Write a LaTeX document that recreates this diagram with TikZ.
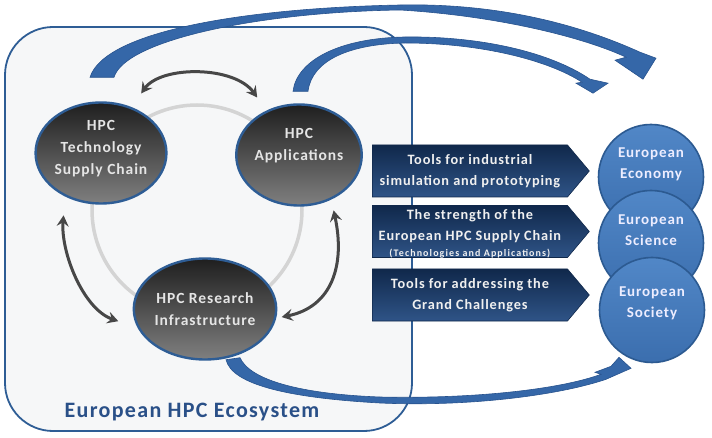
\documentclass[tikz,border=0pt]{standalone}
\usepackage{fontspec}
\setmainfont{Carlito}
\newfontfamily\hpcfont[LetterSpace=6]{Carlito}
\newfontfamily\hpcnotefont[LetterSpace=11]{Carlito}
\newcommand{\smallnotefont}{\hpcnotefont\fontsize{10}{12}\selectfont}
\usetikzlibrary{arrows.meta,positioning,shapes.geometric,shapes.symbols,calc}
\definecolor{ecoblue}{HTML}{2E5D95}
\definecolor{ecofill}{HTML}{F6F7F8}
\definecolor{navytop}{HTML}{10284B}
\definecolor{navybot}{HTML}{2F5487}
\definecolor{orbtop}{HTML}{5187C7}
\definecolor{orbbot}{HTML}{3B6EAE}
\definecolor{orbline}{HTML}{2C5A91}
\definecolor{flowblue}{HTML}{3567A8}
\definecolor{flowline}{HTML}{28538E}
\definecolor{titleblue}{HTML}{2A5088}
\tikzset{
ecobox/.style={rectangle,rounded corners=48pt,draw=ecoblue,fill=ecofill,line width=1.8pt,minimum width=407pt,minimum height=404pt},
ringc/.style={circle,draw=black!17,line width=3.5pt,minimum size=210pt,inner sep=0pt},
hpcnode/.style={ellipse,draw=ecoblue,line width=2.4pt,top color=black!88,bottom color=black!50,text=black!10,align=center,inner sep=0pt,minimum width=124pt,minimum height=101pt,font=\hpcfont\bfseries\fontsize{15.5}{22}\selectfont},
bannerbox/.style={signal,signal to=east,signal pointer angle=100,draw=navytop,line width=.6pt,top color=navytop,bottom color=navybot,text=white!94!black,align=center,inner sep=0pt,minimum width=217pt,minimum height=52pt,font=\hpcfont\bfseries\fontsize{14.3}{21}\selectfont},
orb/.style={circle,draw=orbline,line width=1.6pt,top color=orbtop,bottom color=orbbot,text=white!93!blue,align=center,inner sep=0pt,minimum size=105pt,font=\hpcfont\bfseries\fontsize{15}{21}\selectfont},
titletext/.style={text=titleblue,font=\hpcfont\bfseries\fontsize{22}{24}\selectfont},
cycarr/.style={{Stealth[length=11pt,width=12pt,inset=4pt]}-{Stealth[length=11pt,width=12pt,inset=4pt]},line width=3pt,draw=black!72},
flowarr/.style={fill=flowblue,draw=flowline,line width=.6pt}
}
\begin{document}
\begin{tikzpicture}[
x=1pt,
y=-1pt
]
\useasboundingbox (0,0) rectangle (712,438);
\node[ecobox] (ecosys) at (208.5,229) {};
\node[titletext] (title) at (192,412) {European HPC Ecosystem};
\node[ringc] (ring) at (197,210) {};
\node[hpcnode,text depth=11pt] (tech) at (101,153) {HPC\\Technology\\Supply Chain};
\node[hpcnode,text depth=21pt] (apps) at (299,155) {HPC\\Applications};
\node[hpcnode] (research) at (205,309) {HPC Research\\Infrastructure};
\node[orb,text depth=28pt] (econ) at (651,177) {European\\Economy};
\node[orb,text depth=26pt] (sci) at (651,243) {European\\Science};
\node[orb,text depth=16pt] (soc) at (652,310) {European\\Society};
\coordinate (flowAs) at ($(tech.north)+(1,-24)$);
\coordinate (flowAe) at ($(econ.north)+(-8,-44.5)$);
\coordinate (flowBs) at ($(apps.north)+(1,-12)$);
\coordinate (flowBe) at ($(econ.north)+(-58,-30.5)$);
\coordinate (flowCs) at ($(research.south)+(28,-2)$);
\coordinate (flowCe) at ($(soc.south)+(-21,5)$);
% outgoing flows
\filldraw[flowarr] ($(flowAs)+(-12,0)$) .. controls (105,30) and (250,8) .. (400,5)
  .. controls (500,3) and (580,25) .. ($(flowAe)+(-3,-27)$) -- ($(flowAe)+(13,-21)$)
  -- (flowAe) -- ($(flowAe)+(-28,-19)$) -- ($(flowAe)+(-17,-22)$)
  .. controls (585,38) and (500,16) .. (400,10) .. controls (260,12) and (125,40) .. ($(flowAs)+(12,0)$) -- cycle;
\filldraw[flowarr] ($(flowBs)+(-7,0)$) .. controls (297,60) and (340,38) .. (405,37)
  .. controls (480,36) and (550,52) .. ($(flowBe)+(-3,-14)$) -- ($(flowBe)+(15,-10)$)
  -- (flowBe) -- ($(flowBe)+(-17,-10)$) -- ($(flowBe)+(-11,-11)$)
  .. controls (548,60) and (480,43) .. (405,43) .. controls (350,44) and (312,60) .. ($(flowBs)+(8,0)$) -- cycle;
\filldraw[flowarr] ($(flowCs)+(-7,1)$) .. controls (232,385) and (290,398) .. (380,403)
  .. controls (470,407) and (560,395) .. ($(flowCe)+(-25,11)$) -- (flowCe)
  -- ($(flowCe)+(-12,-11)$) -- ($(flowCe)+(-20,-2)$) -- ($(flowCe)+(-36,4)$) -- ($(flowCe)+(-30,6)$)
  .. controls (558,390) and (470,399) .. (380,397) .. controls (300,394) and (250,380) .. ($(flowCs)+(7,-1)$) -- cycle;
% cycle between the three
\draw[cycarr] ($(tech)!1.3!(tech.56)$) .. controls +(20,-28) and +(-23,-32) .. ($(apps)!1.29!(apps.126)$);
\draw[cycarr] ($(tech)!1.33!(tech.239)$) .. controls +(-3,37) and +(-35,-12) .. ($(research)!1.22!(research.188)$);
\draw[cycarr] ($(apps)!1.2!(apps.302)$) .. controls +(12,55) and +(50,-10) .. ($(research)!1.07!(research.354)$);
% banners
\node[bannerbox,anchor=west] (tools) at (372,171) {Tools for industrial\\simulation and prototyping};
\node[bannerbox,anchor=west,text height=50pt,text depth=0pt] (strength) at (372,231.5) {The strength of the\\European HPC Supply Chain\\[-5pt]{\smallnotefont(Technologies and Applications)}};
\node[bannerbox,anchor=west] (grand) at (372,295) {Tools for addressing the\\Grand Challenges};
\end{tikzpicture}
\end{document}
